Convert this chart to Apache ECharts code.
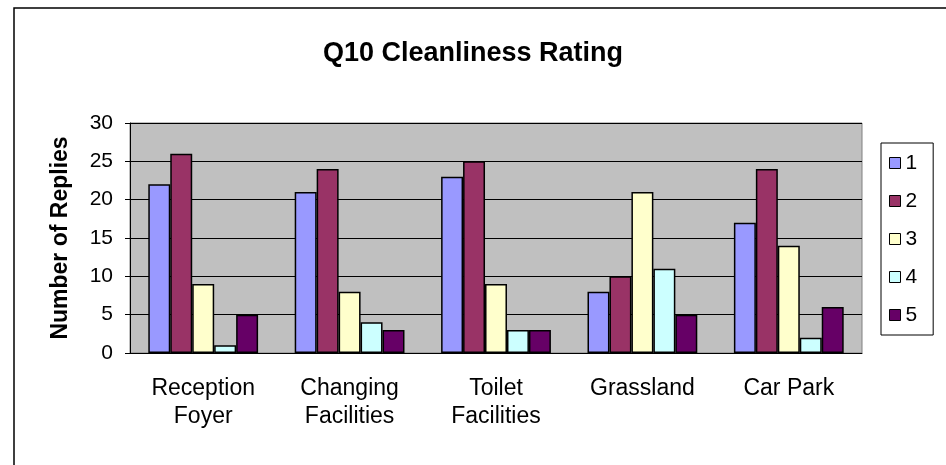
<!DOCTYPE html>
<html>
<head>
<meta charset="utf-8">
<script src="https://cdn.jsdelivr.net/npm/echarts@6/dist/echarts.min.js"></script>
<style>
  html, body { margin: 0; padding: 0; background: #fff; }
  #main { width: 946px; height: 465px; }
</style>
</head>
<body>
<div id="main"></div>
<script>
  // categories and the five rating series
  var categories = ['Reception\nFoyer', 'Changing\nFacilities', 'Toilet\nFacilities', 'Grassland', 'Car Park'];
  var rating1 = [22, 21, 23, 8, 17];
  var rating2 = [26, 24, 25, 10, 24];
  var rating3 = [9, 8, 9, 21, 14];
  var rating4 = [1, 4, 3, 11, 2];
  var rating5 = [5, 3, 3, 5, 6];
  var seriesNames = ['1', '2', '3', '4', '5'];
  var colors = ['#9999FF', '#993366', '#FFFFCC', '#CCFFFF', '#660066'];

  var myChart = echarts.init(document.getElementById('main'));
  var font = 'Liberation Sans, Arial, sans-serif';

  var allData = [rating1, rating2, rating3, rating4, rating5];
  var series = [];
  for (var i = 0; i < allData.length; i++) {
    series.push({
      name: seriesNames[i],
      type: 'bar',
      data: allData[i],
      barGap: '0%',
      barCategoryGap: '25%',
      itemStyle: { color: colors[i], borderColor: '#000', borderWidth: 1.5 }
    });
  }

  var option = {
    animation: false,
    textStyle: { fontFamily: font, color: '#000' },
    graphic: [{
      type: 'rect',
      left: 11.5, top: 5.5,
      shape: { width: 1000, height: 1000 },
      style: { fill: 'none', stroke: '#000', lineWidth: 1.5 },
      z: -10
    }],
    title: {
      text: 'Q10 Cleanliness Rating',
      left: 'center',
      top: 35,
      textStyle: { fontFamily: font, fontSize: 27, fontWeight: 'bold', color: '#000' }
    },
    legend: {
      orient: 'vertical',
      left: 881,
      top: 143,
      padding: [9, 16, 9, 8],
      itemGap: 16,
      itemWidth: 11,
      itemHeight: 11,
      icon: 'rect',
      borderColor: '#000',
      borderWidth: 1,
      textStyle: { fontFamily: font, fontSize: 21, color: '#000', lineHeight: 22 },
      itemStyle: { borderColor: '#000', borderWidth: 1 },
      data: seriesNames
    },
    grid: {
      left: 130, right: 84, top: 123, bottom: 112,
      show: true,
      backgroundColor: '#C0C0C0',
      borderColor: '#808080',
      borderWidth: 1
    },
    xAxis: {
      type: 'category',
      data: categories,
      axisLine: { lineStyle: { color: '#000' } },
      axisTick: { alignWithLabel: false, length: 6, lineStyle: { color: '#000' } },
      axisLabel: { fontFamily: font, fontSize: 23, color: '#000', lineHeight: 28, margin: 22, interval: 0 }
    },
    yAxis: {
      type: 'value',
      min: 0, max: 30, interval: 5,
      name: 'Number of Replies',
      nameLocation: 'middle',
      nameGap: 58,
      nameTextStyle: { fontFamily: font, fontSize: 23, fontWeight: 'bold', color: '#000' },
      axisLine: { show: true, lineStyle: { color: '#000' } },
      axisTick: { show: true, length: 5, lineStyle: { color: '#000' } },
      axisLabel: { fontFamily: font, fontSize: 21, color: '#000', margin: 17 },
      splitLine: { lineStyle: { color: '#000', width: 1 } }
    },
    series: series
  };

  myChart.setOption(option);
</script>
</body>
</html>
